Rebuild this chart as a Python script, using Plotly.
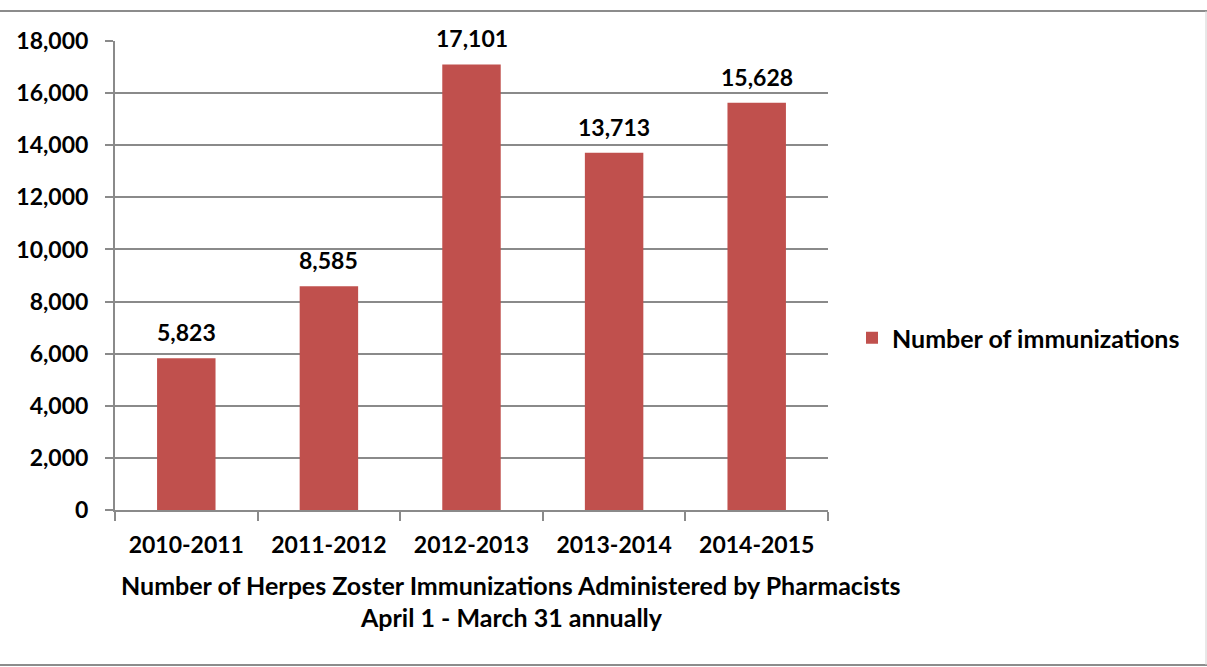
import plotly.graph_objects as go

seasons = ["2010-2011", "2011-2012", "2012-2013", "2013-2014", "2014-2015"]
immunizations = [5823, 8585, 17101, 13713, 15628]
y_ticks = [0, 2000, 4000, 6000, 8000, 10000, 12000, 14000, 16000, 18000]
series_name = "Number of immunizations"
title_lines = [
    "Number of Herpes Zoster Immunizations Administered by Pharmacists",
    "April 1 - March 31 annually",
]

FONT = "Lato"
FS_NUM = 23   # numbers: tick labels, value labels
FS_TXT = 25   # words: axis title, legend
GRID = "#8a8a8a"
BAR = "#C0504D"

W, H = 1207, 667
L, R, T, B = 115, 379, 41, 157
pw, ph = W - L - R, H - T - B


def px_x(x):
    return (x - L) / pw


def px_y(y):
    return (H - B - y) / ph


def bold(size):
    return dict(family=FONT, size=size, color="black", weight="bold")


fig = go.Figure()
fig.add_trace(go.Bar(
    x=seasons,
    y=immunizations,
    name=series_name,
    marker=dict(color=BAR, line=dict(width=0)),
    width=0.41,
    showlegend=True,
    hovertemplate="%{x}: %{y:,}<extra></extra>",
))

# value labels above each bar
annotations = [
    dict(x=s, y=v, xref="x", yref="y", text=f"{v:,}", showarrow=False,
         xanchor="center", yanchor="middle", yshift=26, font=bold(FS_NUM))
    for s, v in zip(seasons, immunizations)
]

# two-line axis caption below the category labels
annotations += [
    dict(text=title_lines[0], xref="paper", yref="paper", x=px_x(511), y=px_y(585),
         xanchor="center", yanchor="middle", showarrow=False, font=bold(FS_TXT)),
    dict(text=title_lines[1], xref="paper", yref="paper", x=px_x(511), y=px_y(617),
         xanchor="center", yanchor="middle", showarrow=False, font=bold(FS_TXT)),
]

# chart frame
shapes = [
    dict(type="line", xref="paper", yref="paper", x0=px_x(-2), x1=px_x(1209),
         y0=px_y(11), y1=px_y(11), line=dict(color="#8c8c8c", width=2)),
    dict(type="line", xref="paper", yref="paper", x0=px_x(-2), x1=px_x(1209),
         y0=px_y(665), y1=px_y(665), line=dict(color="#8c8c8c", width=2)),
    dict(type="line", xref="paper", yref="paper", x0=px_x(1206), x1=px_x(1206),
         y0=px_y(11), y1=px_y(665), line=dict(color="#d0d0d0", width=1)),
]

fig.update_layout(
    width=W, height=H,
    margin=dict(l=L, r=R, t=T, b=B, pad=0),
    paper_bgcolor="white", plot_bgcolor="white",
    font=dict(family=FONT, size=FS_NUM, color="black"),
    shapes=shapes,
    annotations=annotations,
    legend=dict(
        x=px_x(852), y=px_y(338), xanchor="left", yanchor="middle",
        font=bold(FS_TXT), itemwidth=30, bgcolor="rgba(0,0,0,0)",
    ),
    xaxis=dict(
        showline=True, linecolor=GRID, linewidth=2,
        ticks="outside", tickson="boundaries", ticklen=9, tickcolor=GRID, tickwidth=2,
        tickfont=bold(FS_NUM), showgrid=False, ticklabelstandoff=13,
    ),
    yaxis=dict(
        range=[0, 18000], tickvals=y_ticks, tickformat=",d",
        showline=True, linecolor=GRID, linewidth=2,
        ticks="outside", ticklen=8, tickcolor=GRID, tickwidth=2,
        showgrid=True, gridcolor=GRID, gridwidth=2,
        tickfont=bold(FS_NUM), ticklabelstandoff=12, zeroline=False,
    ),
)

fig.write_html("out.html")
